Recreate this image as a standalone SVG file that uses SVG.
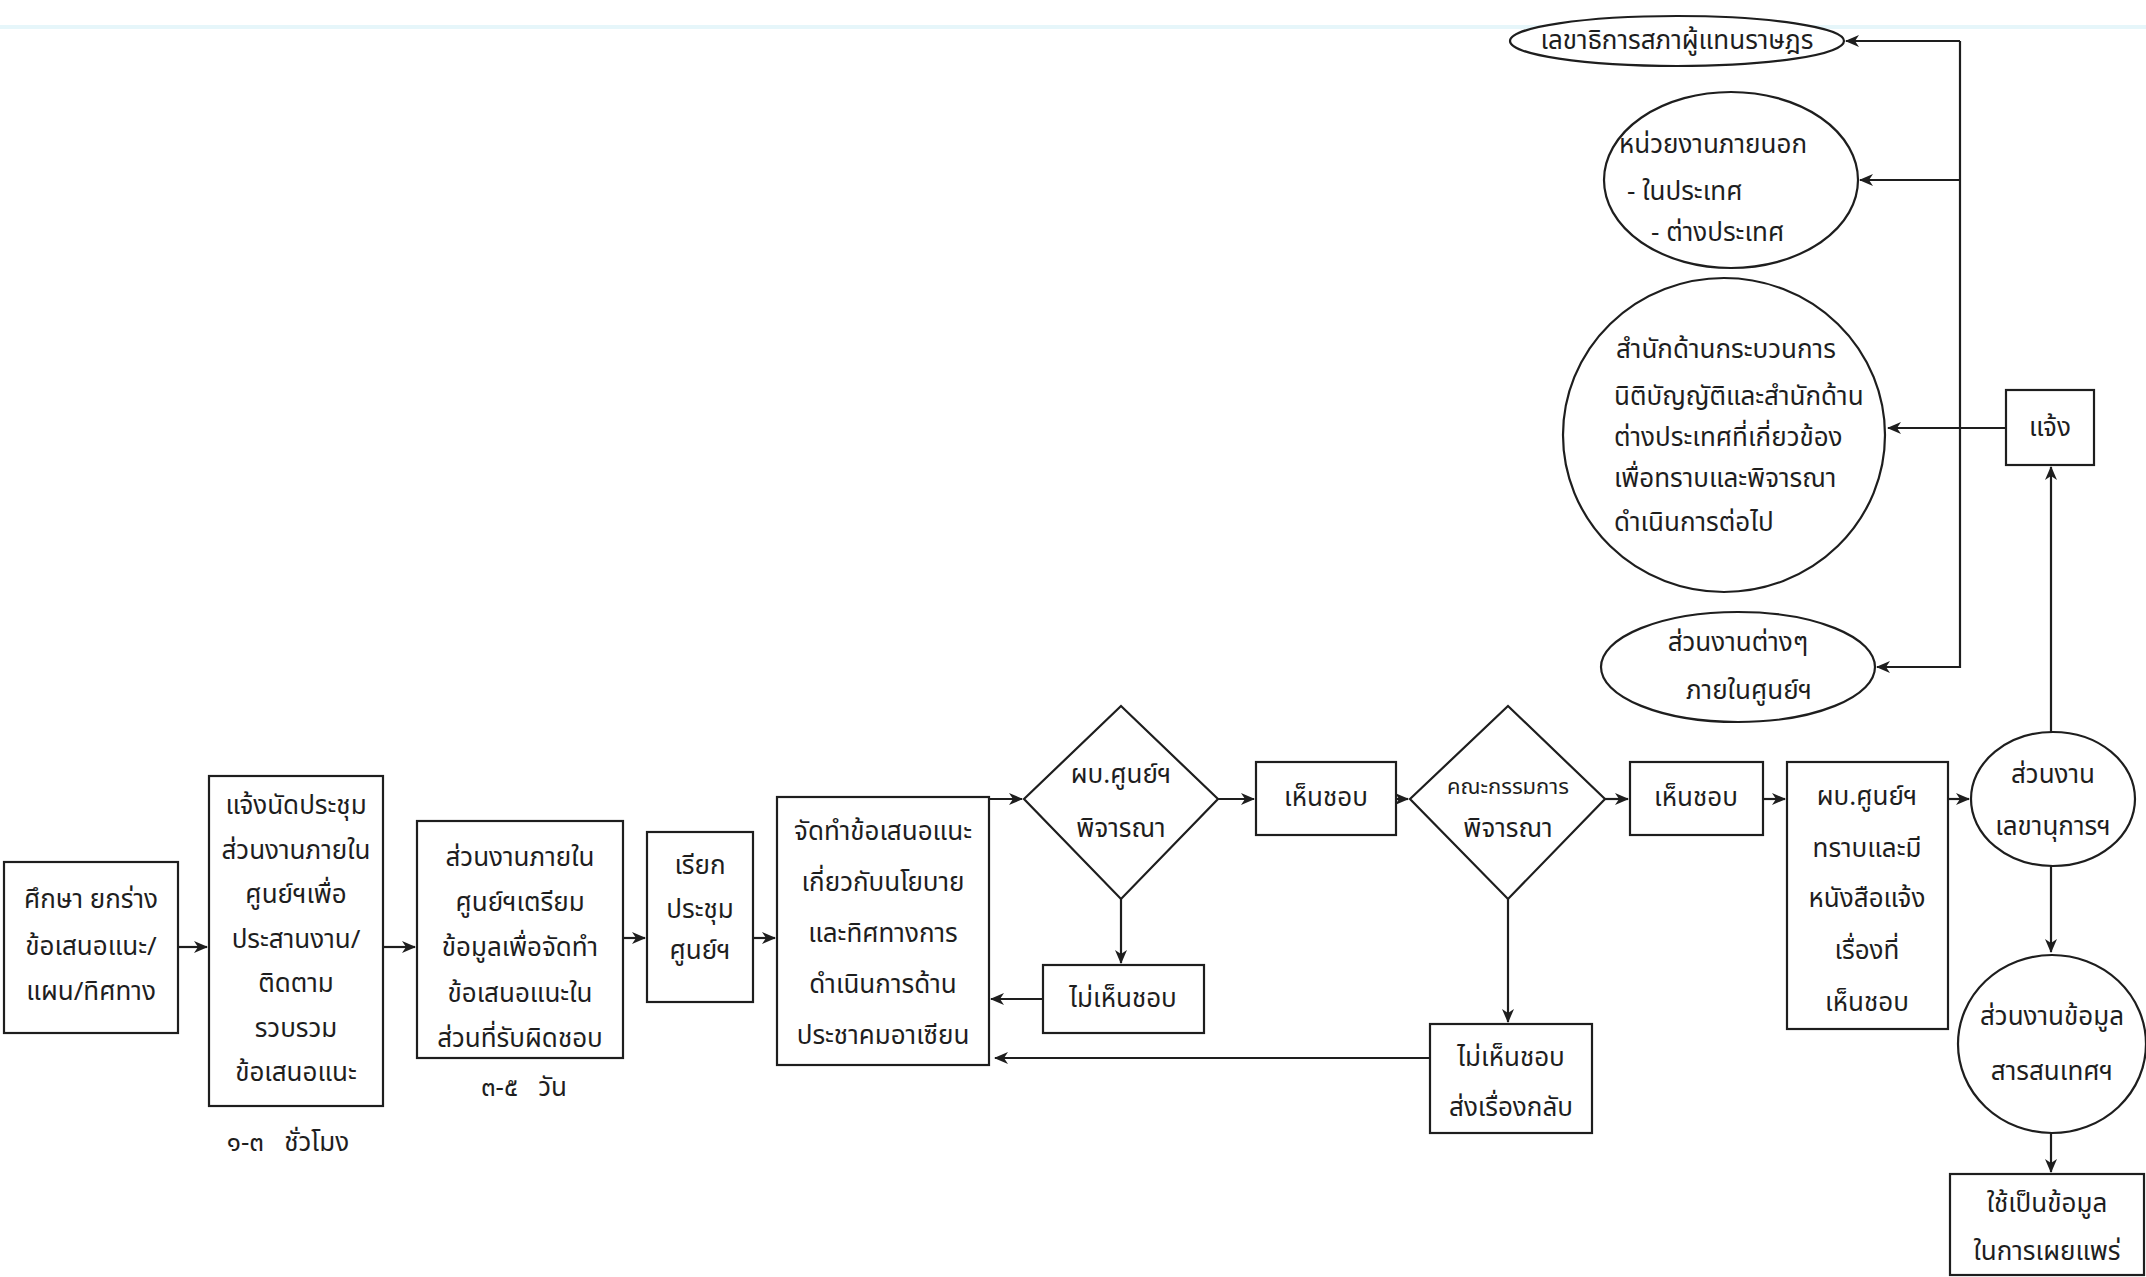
<svg xmlns="http://www.w3.org/2000/svg" width="2146" height="1277" viewBox="0 0 2146 1277">
  <style>
    .shape { fill: #ffffff; stroke: #1e1e1e; stroke-width: 2.2; }
    .wire { fill: none; stroke: #1e1e1e; stroke-width: 2.2; }
    text { font-family: "Noto Sans Thai", "Noto Sans", "DejaVu Sans", sans-serif; font-size: 26px; fill: #1e1e1e; text-anchor: middle; dominant-baseline: central; }
    .left { text-anchor: start; }
    .small { font-size: 22px; }
  </style>
  <defs>
    <marker id="arrow" viewBox="0 0 14 12" refX="13" refY="6" markerWidth="14" markerHeight="12" markerUnits="userSpaceOnUse" orient="auto">
      <path d="M0,0 L14,6 L0,12 L4,6 z" fill="#1e1e1e"/>
    </marker>
  </defs>

  <rect width="2146" height="1277" fill="#ffffff"/>
  <line x1="0" y1="27" x2="2146" y2="27" stroke="#e6f6fa" stroke-width="4"/>

  <!-- connectors -->
  <g id="connectors" class="wire" marker-end="url(#arrow)">
    <line x1="178" y1="947" x2="207" y2="947"/>
    <line x1="383" y1="947" x2="415" y2="947"/>
    <line x1="623" y1="938" x2="645" y2="938"/>
    <line x1="753" y1="938" x2="775" y2="938"/>
    <line x1="989" y1="799" x2="1022" y2="799"/>
    <line x1="1218" y1="799" x2="1254" y2="799"/>
    <line x1="1396" y1="799" x2="1408" y2="799"/>
    <line x1="1605" y1="799" x2="1628" y2="799"/>
    <line x1="1763" y1="799" x2="1785" y2="799"/>
    <line x1="1948" y1="799" x2="1969" y2="799"/>
    <line x1="1121" y1="899" x2="1121" y2="963"/>
    <line x1="1043" y1="999" x2="991" y2="999"/>
    <line x1="1508" y1="899" x2="1508" y2="1022"/>
    <line x1="1430" y1="1058" x2="995" y2="1058"/>
    <line x1="2051" y1="866" x2="2051" y2="952"/>
    <line x1="2051" y1="1133" x2="2051" y2="1172"/>
    <line x1="2051" y1="732" x2="2051" y2="467"/>
    <line x1="2006" y1="428" x2="1888" y2="428"/>
    <line x1="1960" y1="41" x2="1846" y2="41"/>
    <line x1="1960" y1="180" x2="1860" y2="180"/>
    <polyline points="1960,41 1960,667 1877,667"/>
  </g>

  <!-- nodes -->
  <g id="study">
    <rect class="shape" x="4" y="862" width="174" height="171"/>
    <text x="91" y="900">ศึกษา ยกร่าง</text>
    <text x="91" y="947">ข้อเสนอแนะ/</text>
    <text x="91" y="992">แผน/ทิศทาง</text>
  </g>

  <g id="notify-meeting">
    <rect class="shape" x="209" y="776" width="174" height="330"/>
    <text x="296" y="806">แจ้งนัดประชุม</text>
    <text x="296" y="851">ส่วนงานภายใน</text>
    <text x="296" y="895">ศูนย์ฯเพื่อ</text>
    <text x="296" y="940">ประสานงาน/</text>
    <text x="296" y="984">ติดตาม</text>
    <text x="296" y="1029">รวบรวม</text>
    <text x="296" y="1073">ข้อเสนอแนะ</text>
  </g>
  <text id="label-hours" x="288" y="1143">๑-๓&#160;&#160;&#160;ชั่วโมง</text>

  <g id="prepare-data">
    <rect class="shape" x="417" y="821" width="206" height="237"/>
    <text x="520" y="858">ส่วนงานภายใน</text>
    <text x="520" y="903">ศูนย์ฯเตรียม</text>
    <text x="520" y="948">ข้อมูลเพื่อจัดทำ</text>
    <text x="520" y="994">ข้อเสนอแนะใน</text>
    <text x="520" y="1039">ส่วนที่รับผิดชอบ</text>
  </g>
  <text id="label-days" x="524" y="1088">๓-๕&#160;&#160;&#160;วัน</text>

  <g id="call-meeting">
    <rect class="shape" x="647" y="832" width="106" height="170"/>
    <text x="700" y="866">เรียก</text>
    <text x="700" y="910">ประชุม</text>
    <text x="700" y="951">ศูนย์ฯ</text>
  </g>

  <g id="draft-proposal">
    <rect class="shape" x="777" y="797" width="212" height="268"/>
    <text x="883" y="832">จัดทำข้อเสนอแนะ</text>
    <text x="883" y="883">เกี่ยวกับนโยบาย</text>
    <text x="883" y="934">และทิศทางการ</text>
    <text x="883" y="985">ดำเนินการด้าน</text>
    <text x="883" y="1036">ประชาคมอาเซียน</text>
  </g>

  <g id="director-review">
    <polygon class="shape" points="1121,706 1218,799 1121,899 1024,799"/>
    <text x="1121" y="775">ผบ.ศูนย์ฯ</text>
    <text x="1121" y="829">พิจารณา</text>
  </g>

  <g id="approved-1">
    <rect class="shape" x="1256" y="762" width="140" height="73"/>
    <text x="1326" y="798">เห็นชอบ</text>
  </g>

  <g id="rejected-1">
    <rect class="shape" x="1043" y="965" width="161" height="68"/>
    <text x="1123" y="999">ไม่เห็นชอบ</text>
  </g>

  <g id="committee-review">
    <polygon class="shape" points="1508,706 1605,799 1508,899 1410,799"/>
    <text class="small" x="1508" y="787">คณะกรรมการ</text>
    <text x="1508" y="829">พิจารณา</text>
  </g>

  <g id="approved-2">
    <rect class="shape" x="1630" y="762" width="133" height="73"/>
    <text x="1696" y="798">เห็นชอบ</text>
  </g>

  <g id="rejected-2">
    <rect class="shape" x="1430" y="1024" width="162" height="109"/>
    <text x="1511" y="1058">ไม่เห็นชอบ</text>
    <text x="1511" y="1108">ส่งเรื่องกลับ</text>
  </g>

  <g id="director-letter">
    <rect class="shape" x="1787" y="762" width="161" height="267"/>
    <text x="1867" y="797">ผบ.ศูนย์ฯ</text>
    <text x="1867" y="849">ทราบและมี</text>
    <text x="1867" y="899">หนังสือแจ้ง</text>
    <text x="1867" y="951">เรื่องที่</text>
    <text x="1867" y="1003">เห็นชอบ</text>
  </g>

  <g id="secretariat">
    <ellipse class="shape" cx="2053" cy="799" rx="82" ry="67"/>
    <text x="2053" y="775">ส่วนงาน</text>
    <text x="2053" y="827">เลขานุการฯ</text>
  </g>

  <g id="information-unit">
    <ellipse class="shape" cx="2052" cy="1044" rx="94" ry="89"/>
    <text x="2052" y="1017">ส่วนงานข้อมูล</text>
    <text x="2052" y="1072">สารสนเทศฯ</text>
  </g>

  <g id="publish">
    <rect class="shape" x="1950" y="1174" width="194" height="101"/>
    <text x="2047" y="1204">ใช้เป็นข้อมูล</text>
    <text x="2047" y="1252">ในการเผยแพร่</text>
  </g>

  <g id="notify">
    <rect class="shape" x="2006" y="390" width="88" height="75"/>
    <text x="2050" y="428">แจ้ง</text>
  </g>

  <g id="secretary-general">
    <ellipse class="shape" cx="1677" cy="41" rx="167" ry="25"/>
    <text x="1677" y="41">เลขาธิการสภาผู้แทนราษฎร</text>
  </g>

  <g id="external-agencies">
    <ellipse class="shape" cx="1731" cy="180" rx="127" ry="88"/>
    <text x="1713" y="145">หน่วยงานภายนอก</text>
    <text class="left" x="1627" y="192">- ในประเทศ</text>
    <text class="left" x="1651" y="233">- ต่างประเทศ</text>
  </g>

  <g id="bureaus">
    <ellipse class="shape" cx="1724" cy="435" rx="161" ry="157"/>
    <text class="left" x="1616" y="350">สำนักด้านกระบวนการ</text>
    <text class="left" x="1614" y="397">นิติบัญญัติและสำนักด้าน</text>
    <text class="left" x="1614" y="438">ต่างประเทศที่เกี่ยวข้อง</text>
    <text class="left" x="1614" y="479">เพื่อทราบและพิจารณา</text>
    <text class="left" x="1614" y="523">ดำเนินการต่อไป</text>
  </g>

  <g id="internal-units">
    <ellipse class="shape" cx="1738" cy="667" rx="137" ry="55"/>
    <text x="1738" y="643">ส่วนงานต่างๆ</text>
    <text x="1749" y="691">ภายในศูนย์ฯ</text>
  </g>
</svg>
